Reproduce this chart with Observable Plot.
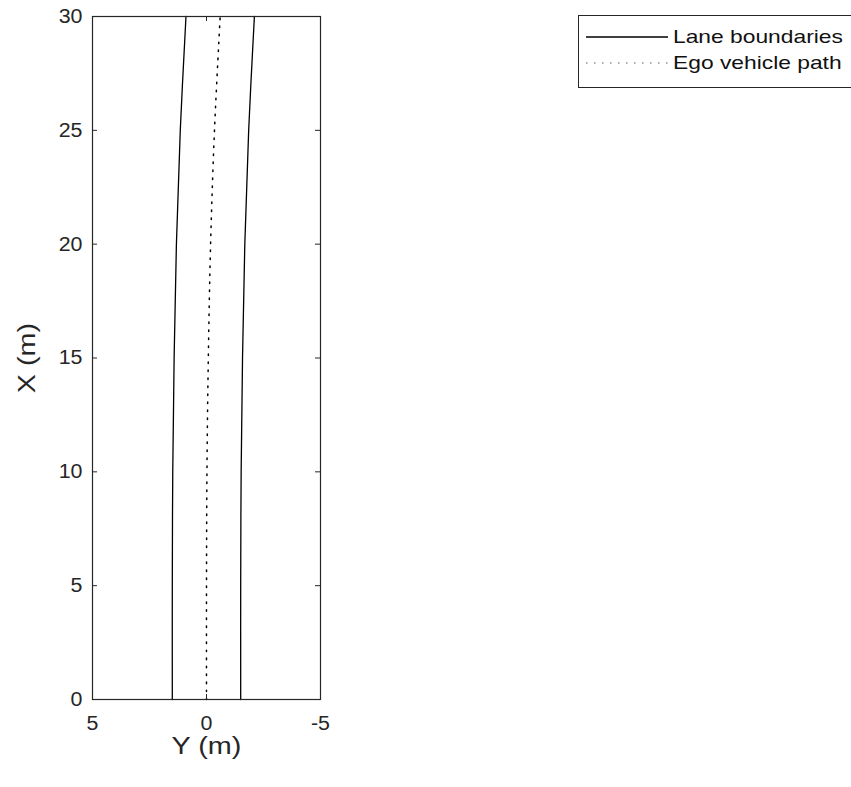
<!DOCTYPE html>
<html>
<head>
<meta charset="utf-8">
<script src="https://cdn.jsdelivr.net/npm/d3@7"></script>
<script src="https://cdn.jsdelivr.net/npm/@observablehq/plot@0.6"></script>
<style>
  body { margin: 0; background: #fff; }
  #wrap { position: relative; width: 851px; height: 787px; overflow: hidden; font-family: "Liberation Sans", Arial, sans-serif; }
  #legend { position: absolute; left: 578px; top: 15px; width: 290px; height: 73px; border: 1px solid #262626; background: #fff; box-sizing: border-box; }
  .row { position: absolute; left: 0; height: 20px; display: flex; align-items: center; white-space: nowrap; }
  .row span { display: inline-block; font-size: 19px; color: #111; margin-left: 2px; transform: scaleX(1.2); transform-origin: left center; }
</style>
</head>
<body>
<div id="wrap"></div>
<script>
// Longitudinal distance X (m)
const xDist = [0, 5, 10, 15, 20, 25, 30];
// Lateral positions Y (m)
const leftBoundaryY = [1.50, 1.50, 1.48, 1.42, 1.32, 1.15, 0.90];
const rightBoundaryY = [-1.50, -1.50, -1.52, -1.58, -1.68, -1.85, -2.10];
const egoPathY = [0.00, 0.00, -0.02, -0.08, -0.18, -0.35, -0.60];
// Tick labels
const yAxisTicks = [5, 0, -5];            // horizontal axis (Y)
const xAxisTicks = [0, 5, 10, 15, 20, 25, 30]; // vertical axis (X)
const legendLabels = ["Lane boundaries", "Ego vehicle path"];

const left = xDist.map((x, i) => ({X: x, Y: leftBoundaryY[i]}));
const right = xDist.map((x, i) => ({X: x, Y: rightBoundaryY[i]}));
const ego = xDist.map((x, i) => ({X: x, Y: egoPathY[i]}));

const W = 851, H = 787, mL = 92, mR = 531, mT = 16, mB = 88;
const innerW = W - mL - mR, innerH = H - mT - mB;
const axisColor = "#262626";

const chart = Plot.plot({
  width: W, height: H,
  marginLeft: mL, marginRight: mR, marginTop: mT, marginBottom: mB,
  style: {background: "#fff", fontFamily: "Liberation Sans, Arial, sans-serif", fontSize: "20px", color: axisColor},
  x: {domain: [5, -5]},
  y: {domain: [0, 30]},
  marks: [
    Plot.line(left, {x: "Y", y: "X", stroke: "#000", strokeWidth: 1.3, curve: "catmull-rom"}),
    Plot.line(right, {x: "Y", y: "X", stroke: "#000", strokeWidth: 1.3, curve: "catmull-rom"}),
    Plot.line(ego, {x: "Y", y: "X", stroke: "#000", strokeWidth: 1.5, strokeDasharray: "1.5,6.5", curve: "catmull-rom"}),
    Plot.frame({stroke: axisColor, strokeWidth: 1.2}),
    Plot.tickX(yAxisTicks, {x: d => d, insetTop: innerH - 5, stroke: axisColor}),
    Plot.tickX(yAxisTicks, {x: d => d, insetBottom: innerH - 5, stroke: axisColor}),
    Plot.tickY(xAxisTicks, {y: d => d, insetRight: innerW - 5, stroke: axisColor}),
    Plot.tickY(xAxisTicks, {y: d => d, insetLeft: innerW - 5, stroke: axisColor}),
    Plot.axisX({ticks: yAxisTicks, tickSize: 0, tickPadding: 16, label: null, tickFormat: d => String(d), fontSize: 20, fill: axisColor, className: "ticklab"}),
    Plot.axisY({ticks: xAxisTicks, tickSize: 0, tickPadding: 10, label: null, tickFormat: d => String(d), fontSize: 20, fill: axisColor, className: "ticklab"}),
    Plot.text(["Y (m)"], {frameAnchor: "bottom", text: d => d, dy: 47, lineAnchor: "middle", textAnchor: "middle", fontSize: 24, fill: axisColor}),
    Plot.text(["X (m)"], {frameAnchor: "left", text: d => d, rotate: -90, dx: -65, lineAnchor: "middle", textAnchor: "middle", fontSize: 24, fill: axisColor})
  ]
});
// widen glyphs slightly to match the reference's text proportions
d3.select(chart).selectAll("text").each(function() {
  const isTick = this.closest("g[aria-label$='tick label']") !== null;
  const t = this.getAttribute("transform") || "";
  this.setAttribute("transform", (t + (isTick ? " scale(1.07,1)" : " scale(1.2,1)")).trim());
});
const wrap = document.getElementById("wrap");
wrap.appendChild(chart);

// Legend
const legend = document.createElement("div");
legend.id = "legend";
const styles = [{dash: null, y: 11}, {dash: "1.5,6.5", y: 37}];
legendLabels.forEach((lab, i) => {
  const row = document.createElement("div");
  row.className = "row";
  row.style.top = styles[i].y + "px";
  const s = d3.create("svg").attr("width", 92).attr("height", 20);
  s.append("line").attr("x1", 7).attr("x2", 89).attr("y1", 10).attr("y2", 10)
    .attr("stroke", i === 0 ? "#000" : "#555").attr("stroke-width", i === 0 ? 1.3 : 1.2)
    .attr("stroke-dasharray", styles[i].dash);
  row.appendChild(s.node());
  const t = document.createElement("span");
  t.textContent = lab;
  row.appendChild(t);
  legend.appendChild(row);
});
wrap.appendChild(legend);
</script>
</body>
</html>
